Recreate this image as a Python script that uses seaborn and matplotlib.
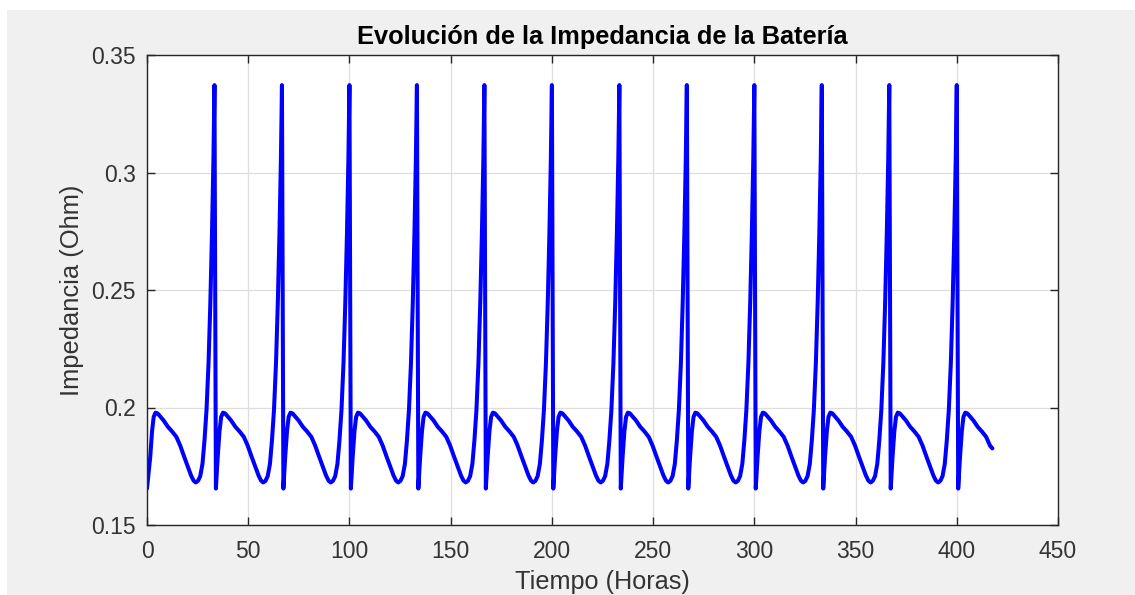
import matplotlib
matplotlib.use("Agg")
import matplotlib.pyplot as plt
import seaborn as sns
import numpy as np
import pandas as pd
from matplotlib.patches import Rectangle

# ---- data ----
# one charge cycle, hours after the previous spike, impedance (Ohm)
profile_hours = [0.7, 1.6, 2.5, 3.3, 4.2, 5.2, 6.5, 8.2, 10.3, 12.4, 14.5,
                 16.4, 18.3, 20.2, 21.8, 23.0, 24.1, 25.2, 26.3, 27.4,
                 28.4, 29.4, 30.4, 31.3, 32.1, 32.8, 33.33]
profile_ohm = [0.1655, 0.1790, 0.1900, 0.1960, 0.1978, 0.1975, 0.1962,
               0.1945, 0.1918, 0.1898, 0.1875, 0.1838, 0.1792, 0.1748,
               0.1710, 0.1689, 0.1681, 0.1688, 0.1708, 0.1760, 0.1860,
               0.1990, 0.2190, 0.2450, 0.2740, 0.3050, 0.3372]
# times of the spikes (cycle starts)
cycle_start_hours = [0.0, 33.33, 66.67, 100.0, 133.33, 166.67, 200.0,
                     233.33, 266.67, 300.0, 333.33, 366.67, 400.0]
last_hour = 417.6
last_ohm = 0.1826

x_ticks = [0, 50, 100, 150, 200, 250, 300, 350, 400, 450]
y_ticks = [0.15, 0.2, 0.25, 0.3, 0.35]
y_tick_labels = ["0.15", "0.2", "0.25", "0.3", "0.35"]

title = "Evolución de la Impedancia de la Batería"
x_label = "Tiempo (Horas)"
y_label = "Impedancia (Ohm)"

# ---- build the series ----
hours, ohms = [], []
for i, start in enumerate(cycle_start_hours):
    for h, v in zip(profile_hours, profile_ohm):
        t = start + h
        if i == len(cycle_start_hours) - 1 and t > last_hour:
            break
        hours.append(t)
        ohms.append(v)
hours.append(last_hour)
ohms.append(last_ohm)
hours[0] = 0.0
df = pd.DataFrame({"Tiempo": hours, "Impedancia": ohms})

# ---- style ----
sns.set_theme(style="white")
plt.rcParams["font.family"] = ["Liberation Sans", "DejaVu Sans"]

W, H = 1135, 595
fig = plt.figure(figsize=(W / 100, H / 100), dpi=100)
fig.patch.set_facecolor("white")
fig.patches.append(Rectangle((7 / W, 0), 1 - 7 / W, 1 - 10 / H,
                             transform=fig.transFigure, facecolor="#f0f0f0",
                             edgecolor="none", zorder=-10))

ax = fig.add_axes([147 / W, 70 / H, 911 / W, 470 / H])
ax.set_facecolor("white")

sns.lineplot(data=df, x="Tiempo", y="Impedancia", ax=ax, color="#0000ff",
             linewidth=2.9, estimator=None, sort=False)

ax.set_xlim(0, 450)
ax.set_ylim(0.15, 0.35)
ax.set_xticks(x_ticks)
ax.set_xticklabels([str(v) for v in x_ticks])
ax.set_yticks(y_ticks)
ax.set_yticklabels(y_tick_labels)

ax.grid(True, color="#dedede", linewidth=0.9)
ax.set_axisbelow(True)
for s in ax.spines.values():
    s.set_color("#262626")
    s.set_linewidth(1.0)
    s.set_visible(True)

ax.tick_params(axis="both", which="both", direction="in", length=6,
               width=1.0, color="#262626", labelcolor="#333333",
               labelsize=16.5, top=True, right=True, bottom=True, left=True)
ax.tick_params(axis="x", pad=11)
ax.tick_params(axis="y", pad=8)

ax.set_title(title, fontsize=18.3, fontweight="bold", color="black", pad=8)
ax.set_xlabel(x_label, fontsize=18.2, color="#333333", labelpad=5)
ax.set_ylabel(y_label, fontsize=18.4, color="#333333", labelpad=5)

fig.savefig("out.png", dpi=100, facecolor=fig.get_facecolor())
